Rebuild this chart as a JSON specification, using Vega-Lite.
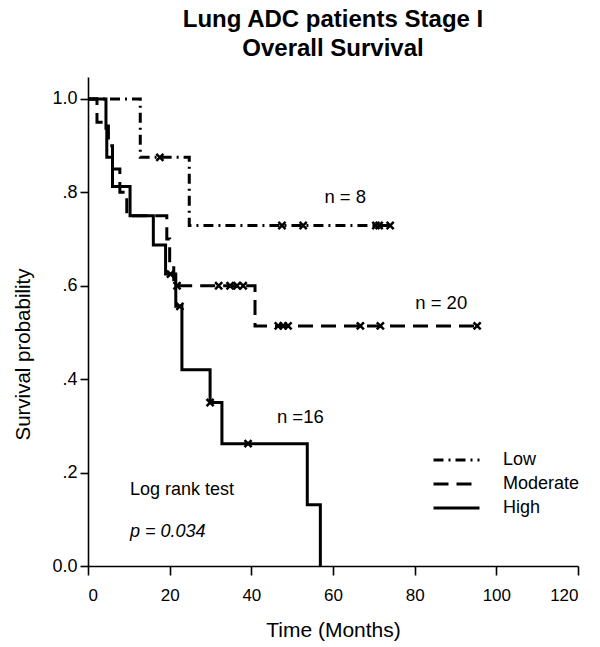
{
  "$schema": "https://vega.github.io/schema/vega-lite/v6.json",
  "width": 490,
  "height": 489,
  "autosize": "none",
  "padding": {"left": 88, "top": 77, "right": 22, "bottom": 81},
  "background": "white",
  "config": {
    "font": "Liberation Sans",
    "view": {"stroke": null},
    "axis": {"domainColor": "black", "domainWidth": 1.6, "tickColor": "black", "tickWidth": 1.6, "labelColor": "black", "titleColor": "black", "grid": false, "labelFont": "Liberation Sans", "titleFont": "Liberation Sans", "titleFontWeight": "normal"}
  },
  "title": {
    "text": ["Lung ADC patients Stage I", "Overall Survival"],
    "fontSize": 24,
    "fontWeight": "bold",
    "font": "Liberation Sans",
    "lineHeight": 29,
    "anchor": "middle",
    "color": "black",
    "offset": 16
  },
  "datasets": {
    "km": [
      {"group": "Low", "t": 0, "s": 1},
      {"group": "Low", "t": 12.8, "s": 0.875},
      {"group": "Low", "t": 24.8, "s": 0.729},
      {"group": "Low", "t": 74, "s": 0.729},
      {"group": "Moderate", "t": 0, "s": 1},
      {"group": "Moderate", "t": 2.2, "s": 0.95},
      {"group": "Moderate", "t": 5, "s": 0.9},
      {"group": "Moderate", "t": 6, "s": 0.85},
      {"group": "Moderate", "t": 7.8, "s": 0.8},
      {"group": "Moderate", "t": 9.5, "s": 0.75},
      {"group": "Moderate", "t": 19.3, "s": 0.7},
      {"group": "Moderate", "t": 20, "s": 0.65},
      {"group": "Moderate", "t": 21, "s": 0.6},
      {"group": "Moderate", "t": 40.9, "s": 0.514},
      {"group": "Moderate", "t": 95.3, "s": 0.514},
      {"group": "High", "t": 0, "s": 1},
      {"group": "High", "t": 4.4, "s": 0.9375},
      {"group": "High", "t": 4.6, "s": 0.875},
      {"group": "High", "t": 6, "s": 0.8125},
      {"group": "High", "t": 10.3, "s": 0.75},
      {"group": "High", "t": 16, "s": 0.6875},
      {"group": "High", "t": 19, "s": 0.625},
      {"group": "High", "t": 21.5, "s": 0.556},
      {"group": "High", "t": 23, "s": 0.42},
      {"group": "High", "t": 29.9, "s": 0.35},
      {"group": "High", "t": 32.8, "s": 0.262},
      {"group": "High", "t": 53.7, "s": 0.131},
      {"group": "High", "t": 56.9, "s": 0}
    ],
    "censor": [
      {"group": "Low", "t": 17.6, "s": 0.875},
      {"group": "Low", "t": 47.5, "s": 0.729},
      {"group": "Low", "t": 52.7, "s": 0.729},
      {"group": "Low", "t": 70.5, "s": 0.729},
      {"group": "Low", "t": 71.3, "s": 0.729},
      {"group": "Low", "t": 74, "s": 0.729},
      {"group": "Moderate", "t": 21.8, "s": 0.6},
      {"group": "Moderate", "t": 32, "s": 0.6},
      {"group": "Moderate", "t": 34.8, "s": 0.6},
      {"group": "Moderate", "t": 36.5, "s": 0.6},
      {"group": "Moderate", "t": 38, "s": 0.6},
      {"group": "Moderate", "t": 46.6, "s": 0.514},
      {"group": "Moderate", "t": 47.8, "s": 0.514},
      {"group": "Moderate", "t": 49, "s": 0.514},
      {"group": "Moderate", "t": 66.7, "s": 0.514},
      {"group": "Moderate", "t": 71.6, "s": 0.514},
      {"group": "Moderate", "t": 95.3, "s": 0.514},
      {"group": "High", "t": 20.2, "s": 0.625},
      {"group": "High", "t": 22.5, "s": 0.556},
      {"group": "High", "t": 29.9, "s": 0.35},
      {"group": "High", "t": 39.2, "s": 0.262}
    ],
    "notes": [
      {"label": "n = 8", "t": 63, "s": 0.79},
      {"label": "n = 20", "t": 86.5, "s": 0.563},
      {"label": "n =16", "t": 52, "s": 0.319}
    ],
    "test": [
      {"label": "Log rank test", "t": 10.3, "s": 0.163}
    ],
    "pval": [
      {"label": "p = 0.034", "t": 10.3, "s": 0.073}
    ]
  },
  "layer": [
    {
      "data": {"name": "km"},
      "mark": {"type": "line", "interpolate": "step-after", "color": "black", "strokeWidth": 3},
      "encoding": {
        "x": {
          "field": "t", "type": "quantitative",
          "scale": {"domain": [0, 120], "nice": false},
          "axis": {"values": [0, 20, 40, 60, 80, 100, 120], "title": "Time (Months)", "labelFontSize": 17, "titleFontSize": 21, "tickSize": 9, "labelPadding": 12, "titlePadding": 16}
        },
        "y": {
          "field": "s", "type": "quantitative",
          "scale": {"domain": [0, 1.047], "nice": false},
          "axis": {
            "values": [0, 0.2, 0.4, 0.6, 0.8, 1],
            "labelExpr": "datum.value === 0 || datum.value === 1 ? format(datum.value, '.1f') : slice(format(datum.value, '.1f'), 1)",
            "title": "Survival probability", "labelFontSize": 18, "titleFontSize": 20.5, "tickSize": 8, "labelPadding": 3,
            "titleAngle": -90, "titleAlign": "center", "titleBaseline": "alphabetic", "titleX": -59, "titleY": 277
          }
        },
        "strokeDash": {
          "field": "group", "type": "nominal",
          "scale": {"domain": ["Low", "Moderate", "High"], "range": [[10, 5, 2, 5], [15, 8], [1, 0]]},
          "legend": {
            "title": null, "orient": "none", "legendX": 344, "legendY": 371,
            "symbolType": "stroke", "symbolSize": 2116, "symbolStrokeWidth": 3, "symbolStrokeColor": "black",
            "labelFontSize": 18, "labelColor": "black", "labelOffset": 22, "rowPadding": 0, "clipHeight": 24
          }
        }
      }
    },
    {
      "data": {"name": "censor"},
      "mark": {"type": "point", "shape": "M-1,-1L1,1M1,-1L-1,1", "size": 50, "filled": false, "color": "black", "stroke": "black", "strokeWidth": 2.5, "opacity": 1},
      "encoding": {
        "x": {"field": "t", "type": "quantitative"},
        "y": {"field": "s", "type": "quantitative"}
      }
    },
    {
      "data": {"name": "notes"},
      "mark": {"type": "text", "fontSize": 18.5, "color": "black", "baseline": "middle", "align": "center"},
      "encoding": {
        "x": {"field": "t", "type": "quantitative"},
        "y": {"field": "s", "type": "quantitative"},
        "text": {"field": "label"}
      }
    },
    {
      "data": {"name": "test"},
      "mark": {"type": "text", "fontSize": 18, "color": "black", "baseline": "middle", "align": "left"},
      "encoding": {
        "x": {"field": "t", "type": "quantitative"},
        "y": {"field": "s", "type": "quantitative"},
        "text": {"field": "label"}
      }
    },
    {
      "data": {"name": "pval"},
      "mark": {"type": "text", "fontSize": 18, "fontStyle": "italic", "color": "black", "baseline": "middle", "align": "left"},
      "encoding": {
        "x": {"field": "t", "type": "quantitative"},
        "y": {"field": "s", "type": "quantitative"},
        "text": {"field": "label"}
      }
    }
  ]
}
